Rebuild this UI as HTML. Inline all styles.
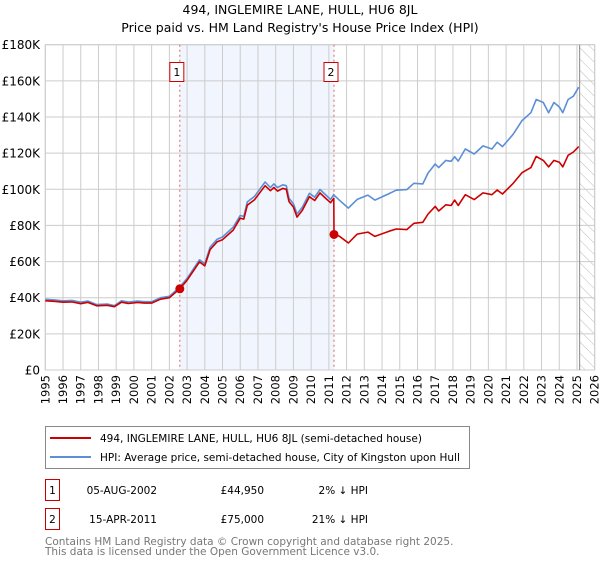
<!DOCTYPE html>
<html><head><meta charset="utf-8"><style>
body{margin:0;background:#fff;width:600px;height:560px;overflow:hidden;font-family:"DejaVu Sans","Liberation Sans",sans-serif}
svg text{font-family:"DejaVu Sans","Liberation Sans",sans-serif}
</style></head><body>
<svg id="c" width="600" height="560">
<defs><pattern id="hatch" width="8" height="8" patternUnits="userSpaceOnUse" patternTransform="rotate(-45)"><line x1="0" y1="0" x2="0" y2="8" stroke="#bbb" stroke-width="1"/></pattern></defs>
<text x="300" y="14" text-anchor="middle" font-size="12.5" fill="#000">494, INGLEMIRE LANE, HULL, HU6 8JL</text>
<text x="300" y="32" text-anchor="middle" font-size="12.5" fill="#000">Price paid vs. HM Land Registry's House Price Index (HPI)</text>
<g id="grid"></g><g id="marks"></g>
<g>
<rect x="45.5" y="426.5" width="424" height="42" fill="#fff" stroke="#888"/>
<line x1="50" y1="438" x2="91" y2="438" stroke="#cc0000" stroke-width="2"/>
<text x="100" y="442" font-size="10.5">494, INGLEMIRE LANE, HULL, HU6 8JL (semi-detached house)</text>
<line x1="50" y1="457" x2="91" y2="457" stroke="#5b8fd6" stroke-width="2"/>
<text x="100" y="461" font-size="10.5">HPI: Average price, semi-detached house, City of Kingston upon Hull</text>
</g>
<g font-size="10.5">
<rect x="45.5" y="479.5" width="14" height="21" fill="#fff" stroke="#cc0000"/><text x="52.5" y="494" text-anchor="middle">1</text>
<text x="157" y="494" text-anchor="end">05-AUG-2002</text><text x="264" y="494" text-anchor="end">£44,950</text><text x="368" y="494" text-anchor="end">2% ↓ HPI</text>
<rect x="45.5" y="508.5" width="14" height="21" fill="#fff" stroke="#cc0000"/><text x="52.5" y="523" text-anchor="middle">2</text>
<text x="157" y="523" text-anchor="end">15-APR-2011</text><text x="264" y="523" text-anchor="end">£75,000</text><text x="368" y="523" text-anchor="end">21% ↓ HPI</text>
</g>
<text x="45" y="545" font-size="10.5" fill="#777">Contains HM Land Registry data © Crown copyright and database right 2025.</text>
<text x="45" y="555" font-size="10.5" fill="#777">This data is licensed under the Open Government Licence v3.0.</text>
</svg>
<script>
const years=[1995.0,1995.5,1996.0,1996.5,1997.0,1997.4,1997.9,1998.5,1998.9,1999.3,1999.7,2000.2,2000.6,2001.0,2001.5,2002.0,2002.59,2003.0,2003.7,2004.0,2004.3,2004.7,2005.0,2005.6,2006.0,2006.2,2006.4,2006.8,2007.4,2007.7,2007.9,2008.1,2008.4,2008.6,2008.75,2009.0,2009.2,2009.5,2009.9,2010.2,2010.5,2010.8,2011.1,2011.28,2011.29,2011.6,2012.1,2012.6,2013.2,2013.6,2014.4,2014.8,2015.4,2015.8,2016.3,2016.6,2017.0,2017.2,2017.6,2017.9,2018.1,2018.3,2018.7,2019.2,2019.7,2020.2,2020.5,2020.8,2021.4,2021.9,2022.4,2022.7,2023.1,2023.4,2023.7,2024.0,2024.2,2024.5,2024.8,2025.1];
const hpiValues=[39.1,38.8,38.3,38.5,37.5,38.2,36.2,36.5,35.6,38.3,37.6,38.2,37.8,37.8,40.0,40.8,46.0,50.7,61.0,58.8,68.0,72.4,73.6,79.0,85.5,85.0,93.0,96.0,104.0,101.0,103.0,101.0,102.5,102.0,95.0,92.0,86.3,90.0,97.8,95.6,99.9,97.1,94.4,97.1,96.8,93.9,89.6,94.4,96.8,94.0,97.6,99.5,99.8,103.3,103.0,109.0,114.0,112.0,116.0,115.5,118.0,115.6,122.3,119.5,124.0,122.3,126.0,123.6,130.5,138.0,142.4,149.7,148.0,142.4,148.0,145.6,142.4,149.7,151.5,156.5];
const priceValues=[38.3,38.0,37.5,37.7,36.7,37.4,35.5,35.8,35.0,37.5,36.8,37.4,37.0,37.0,39.2,40.0,44.95,49.7,59.8,57.6,66.6,71.0,72.1,77.4,84.0,83.5,91.2,94.1,102.0,99.2,101.0,99.0,100.5,100.0,93.2,90.2,84.6,88.3,95.9,93.8,98.0,95.2,92.6,95.0,75.0,74.0,70.3,75.2,76.3,73.9,76.8,78.0,77.7,81.2,81.7,86.3,90.5,88.0,91.4,91.0,94.0,91.0,97.0,94.3,98.0,97.0,99.6,97.4,103.3,109.2,112.0,118.2,116.0,112.4,116.0,115.0,112.4,118.8,120.6,123.6];
const saleYears=[2002.59,2011.29];
const salePrices=[44.95,75.0];
const saleLabels=["1","2"];
const yTicks=[0,20,40,60,80,100,120,140,160,180];
const yTickLabels=["£0","£20K","£40K","£60K","£80K","£100K","£120K","£140K","£160K","£180K"];
const xTicks=[1995,1996,1997,1998,1999,2000,2001,2002,2003,2004,2005,2006,2007,2008,2009,2010,2011,2012,2013,2014,2015,2016,2017,2018,2019,2020,2021,2022,2023,2024,2025,2026];
const dataEnd=2025.15;

const L=45.3,R=594.7,T=44.7,B=370;
const X=y=>L+(y-1995)/(2026-1995)*(R-L);
const Y=v=>B-v/180*(B-T);
const NS="http://www.w3.org/2000/svg";
function mk(tag,attrs,parent,text){const e=document.createElementNS(NS,tag);for(const k in attrs)e.setAttribute(k,attrs[k]);if(text!==undefined)e.textContent=text;parent.appendChild(e);return e;}
const grid=document.getElementById('grid'),marks=document.getElementById('marks');
let sh=mk('rect',{x:X(saleYears[0]),y:T,width:X(saleYears[1])-X(saleYears[0]),height:B-T,fill:'#eef2fc',opacity:0.8},grid);


let hz=mk('rect',{x:X(dataEnd),y:T,width:R-X(dataEnd),height:B-T,fill:'url(#hatch)'},grid);


xTicks.forEach(t=>{
 const gl=mk('line',{x1:X(t),x2:X(t),y1:T,y2:B,stroke:'#ccc','stroke-width':1},grid);
 
 
 const x=X(t)+4;
 const tl=mk('text',{x:x,y:375,'font-size':11.5,'text-anchor':'end',transform:`rotate(-90 ${x} 375)`},grid,String(t));
 
 
});
yTicks.forEach((v,i)=>{
 const gl=mk('line',{x1:L,x2:R,y1:Y(v),y2:Y(v),stroke:'#ccc','stroke-width':1},grid);
 
 
 const tl=mk('text',{x:40,y:Y(v)+4.5,'font-size':12,'text-anchor':'end'},grid,yTickLabels[i]);
 
 
});
let fr=mk('rect',{x:L,y:T,width:R-L,height:B-T,fill:'none',stroke:'#ccc'},grid);


let el=mk('line',{x1:X(dataEnd),x2:X(dataEnd),y1:T,y2:B,stroke:'#888','stroke-width':1},grid);


saleYears.forEach((s,i)=>{
 const vl=mk('line',{x1:X(s),x2:X(s),y1:T,y2:B,stroke:'#e06060','stroke-width':1,'stroke-dasharray':'2,3'},marks);
 
 
});
const pts=a=>years.map((y,i)=>X(y).toFixed(1)+','+Y(a[i]).toFixed(1)).join(' ');
let hl=mk('polyline',{points:pts(hpiValues),fill:'none',stroke:'#5b8fd6','stroke-width':1.6,'stroke-linejoin':'round'},marks);


let pl=mk('polyline',{points:pts(priceValues),fill:'none',stroke:'#cc0000','stroke-width':1.6,'stroke-linejoin':'round'},marks);


saleYears.forEach((s,i)=>{
 const d=mk('circle',{cx:X(s),cy:Y(salePrices[i]),r:4.5,fill:'#cc0000'},marks);
 
 
 const g=mk('g',{},marks);
 
 
 mk('rect',{x:X(s)-10,y:62.5,width:14,height:19,fill:'#fff',stroke:'#cc0000'},g);
 mk('text',{x:X(s)-3,y:76,'font-size':11,'text-anchor':'middle'},g,saleLabels[i]);
});
</script>
</body></html>
